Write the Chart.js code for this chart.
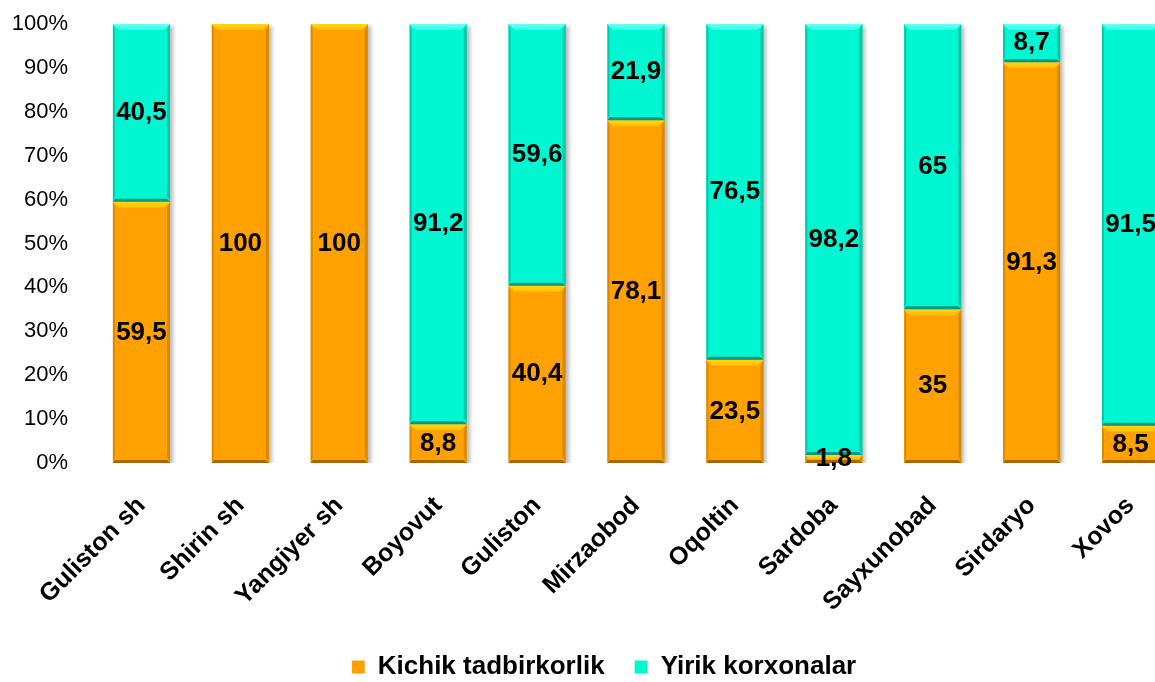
<!DOCTYPE html>
<html>
<head>
<meta charset="utf-8">
<script src="https://cdn.jsdelivr.net/npm/chart.js@4.4.1/dist/chart.umd.min.js"></script>
<style>
  html, body { margin: 0; padding: 0; background: #fff; overflow: hidden; }
  #wrap { width: 1155px; height: 682px; overflow: hidden; position: relative; }
  #box { width: 1208px; height: 690px; position: absolute; left: 0; top: 0; }
</style>
</head>
<body>
<div id="wrap"><div id="box"><canvas id="c"></canvas></div></div>
<script>
const categories = ["Guliston sh", "Shirin sh", "Yangiyer sh", "Boyovut", "Guliston",
  "Mirzaobod", "Oqoltin", "Sardoba", "Sayxunobad", "Sirdaryo", "Xovos"];
const kichik = [59.5, 100, 100, 8.8, 40.4, 78.1, 23.5, 1.8, 35, 91.3, 8.5];
const yirik = [40.5, 0, 0, 91.2, 59.6, 21.9, 76.5, 98.2, 65, 8.7, 91.5];
const yTicks = [0, 10, 20, 30, 40, 50, 60, 70, 80, 90, 100];

const FONT = "'Liberation Sans', Arial, sans-serif";

// light top / dark edges, rough copy of the excel bevel
const bevel = [
  { top: "#FFD51C", side: "#D98A00", bottom: "#A86600" },
  { top: "#6BFFF2", side: "#00C9A8", bottom: "#009A80" }
];

const shadowPlugin = {
  id: "shadow",
  beforeDatasetsDraw(chart) {
    const ctx = chart.ctx;
    ctx.save();
    ctx.shadowColor = "rgba(0,0,0,0.28)";
    ctx.shadowBlur = 4;
    ctx.shadowOffsetX = 3;
    ctx.shadowOffsetY = 2;
  },
  afterDatasetsDraw(chart) {
    chart.ctx.restore();
  }
};

const bevelPlugin = {
  id: "bevel",
  afterDatasetsDraw(chart) {
    const ctx = chart.ctx;
    chart.data.datasets.forEach((ds, i) => {
      const meta = chart.getDatasetMeta(i);
      meta.data.forEach((bar, j) => {
        if (!ds.data[j]) return;
        const p = bar.getProps(["x", "y", "base", "width"], true);
        const x0 = p.x - p.width / 2, x1 = p.x + p.width / 2;
        const y0 = Math.min(p.y, p.base), y1 = Math.max(p.y, p.base);
        const b = Math.min(6, (y1 - y0) / 2);
        const c = bevel[i];
        ctx.save();
        ctx.fillStyle = c.side;
        ctx.beginPath();
        ctx.moveTo(x0, y0); ctx.lineTo(x0 + 2, y0 + b); ctx.lineTo(x0 + 2, y1 - b); ctx.lineTo(x0, y1);
        ctx.closePath(); ctx.fill();
        ctx.beginPath();
        ctx.moveTo(x1, y0); ctx.lineTo(x1 - 3, y0 + b); ctx.lineTo(x1 - 3, y1 - b); ctx.lineTo(x1, y1);
        ctx.closePath(); ctx.fill();
        ctx.fillStyle = c.bottom;
        ctx.beginPath();
        ctx.moveTo(x0, y1); ctx.lineTo(x1, y1); ctx.lineTo(x1 - 3, y1 - Math.min(3, b)); ctx.lineTo(x0 + 2, y1 - Math.min(3, b));
        ctx.closePath(); ctx.fill();
        const g = ctx.createLinearGradient(0, y0, 0, y0 + b);
        g.addColorStop(0, c.top);
        g.addColorStop(1, i === 0 ? "#FFC000" : "#30FFE8");
        ctx.fillStyle = g;
        ctx.beginPath();
        ctx.moveTo(x0, y0); ctx.lineTo(x1, y0); ctx.lineTo(x1 - b, y0 + b); ctx.lineTo(x0 + b, y0 + b);
        ctx.closePath(); ctx.fill();
        ctx.restore();
      });
    });
  }
};

const labelPlugin = {
  id: "valueLabels",
  afterDatasetsDraw(chart) {
    const ctx = chart.ctx;
    ctx.save();
    ctx.font = "bold 26px " + FONT;
    ctx.fillStyle = "#000";
    ctx.textAlign = "center";
    ctx.textBaseline = "middle";
    chart.data.datasets.forEach((ds, i) => {
      chart.getDatasetMeta(i).data.forEach((bar, j) => {
        const v = ds.data[j];
        if (!v) return;
        const p = bar.getProps(["x", "y", "base"], true);
        ctx.fillText(String(v).replace(".", ","), p.x, (p.y + p.base) / 2);
      });
    });
    ctx.restore();
  }
};

new Chart(document.getElementById("c"), {
  type: "bar",
  data: {
    labels: categories,
    datasets: [
      { label: "Kichik tadbirkorlik", data: kichik, backgroundColor: "#FFA100",
        borderColor: "#A86600", borderWidth: 0 },
      { label: "Yirik korxonalar", data: yirik, backgroundColor: "#00F7D2",
        borderColor: "#009A80", borderWidth: 0 }
    ]
  },
  options: {
    responsive: true,
    maintainAspectRatio: false,
    animation: false,
    layout: { padding: { top: 24, left: 0, right: 0, bottom: 0 } },
    datasets: { bar: { categoryPercentage: 1, barPercentage: 0.577 } },
    scales: {
      x: {
        stacked: true,
        grid: { display: false, drawTicks: false },
        border: { display: false },
        ticks: {
          color: "#000", minRotation: 45, maxRotation: 45, padding: 28,
          font: { family: FONT, size: 25, weight: "bold" }
        },
        afterFit(s) { s.height = 161; }
      },
      y: {
        stacked: true,
        min: 0, max: 100,
        grid: { display: false, drawTicks: false },
        border: { display: false },
        afterBuildTicks(s) { s.ticks = yTicks.map(v => ({ value: v })); },
        ticks: {
          color: "#000", padding: 24,
          font: { family: FONT, size: 22 },
          callback: v => v + "%"
        },
        afterFit(s) {
          s.width = 92;
          s.paddingTop = 12;
          s.paddingBottom = 12;
        }
      },
      pad: {
        position: "right",
        display: true,
        grid: { display: false, drawTicks: false },
        border: { display: false },
        ticks: { display: false },
        afterFit(s) { s.width = 28; }
      }
    },
    plugins: {
      tooltip: { enabled: false },
      legend: {
        position: "bottom",
        labels: {
          color: "#000", boxWidth: 13, boxHeight: 13, padding: 30,
          font: { family: FONT, size: 26, weight: "bold" }
        }
      }
    }
  },
  plugins: [shadowPlugin, bevelPlugin, labelPlugin]
});
</script>
</body>
</html>
